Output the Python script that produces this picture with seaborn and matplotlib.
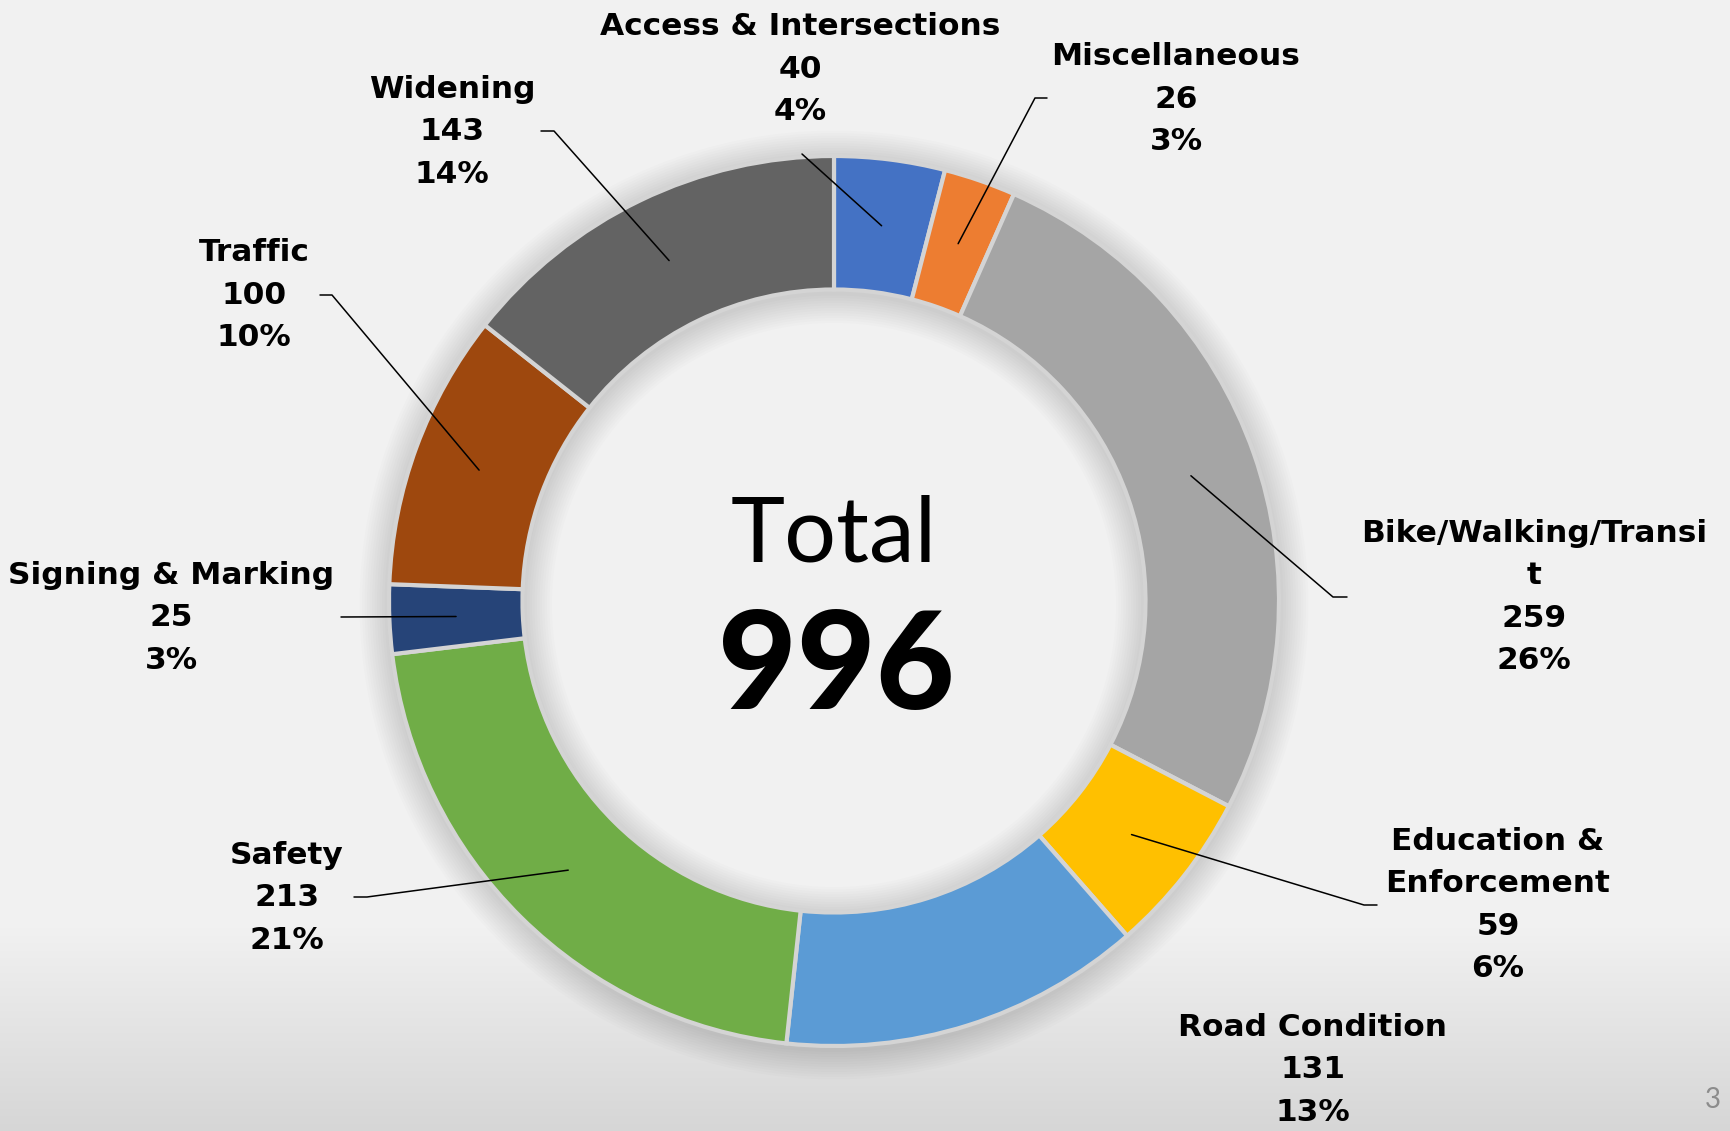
import numpy as np
import matplotlib
matplotlib.use("Agg")
import matplotlib.pyplot as plt
import seaborn as sns

categories = ["Access & Intersections", "Miscellaneous", "Bike/Walking/Transi\nt",
              "Education &\nEnforcement", "Road Condition", "Safety",
              "Signing & Marking", "Traffic", "Widening"]
values = [40, 26, 259, 59, 131, 213, 25, 100, 143]
colors = ["#4472C4", "#ED7D31", "#A5A5A5", "#FFC000", "#5B9BD5", "#70AD47",
          "#264478", "#9E480E", "#636363"]
total_label = "Total"

# layout (pixel space, y downwards from top of the image)
W, H = 1730, 1131
CX, CY, R = 834, 601, 445
label_pos = [(800, 69), (1176, 99), (1534, 597), (1498, 905), (1313, 1070),
             (287, 898), (171, 618), (254, 295), (452, 132)]
elbows = [[(802, 154)], [(1047, 98), (1035, 98)], [(1347, 597), (1333, 597)],
          [(1377, 905), (1364, 905)], [], [(354, 897), (367, 897)],
          [(341, 617)], [(320, 295), (332, 295)], [(541, 131), (554, 131)]]

sns.set_theme(style="white")
plt.rcParams['font.family'] = ['Lato', 'DejaVu Sans']

fig = plt.figure(figsize=(W / 100, H / 100), dpi=100)
fig.patch.set_facecolor("#f2f2f2")

# background gradient
bg = fig.add_axes([0, 0, 1, 1], zorder=0)
yy = np.arange(H)
start = 920
t = np.clip((yy - start) / (H - start), 0, 1)
shade = 0.949 - 0.11 * t
img = np.repeat(np.dstack([shade, shade, shade]).reshape(H, 1, 3), 2, axis=1)
bg.imshow(img, extent=[0, 1, 0, 1], aspect="auto", origin="upper")
bg.axis("off")

ax = fig.add_axes([0, 0, 1, 1], zorder=1)
ax.set_xlim(0, W)
ax.set_ylim(0, H)
ax.set_aspect("equal")
ax.axis("off")
ax.patch.set_alpha(0)

def Y(y):
    return H - y

# soft shadow
for k in range(12):
    ax.pie([1], radius=R + 2 + k * 2.5, center=(CX, Y(CY) - 4), colors=["black"],
           wedgeprops=dict(width=R * 0.30 + 4 + k * 5, alpha=0.011, linewidth=0))

wedges, _ = ax.pie(values, colors=colors, startangle=90, counterclock=False,
                   radius=R, center=(CX, Y(CY)),
                   wedgeprops=dict(width=R * 0.30, edgecolor="#d4d4d4", linewidth=3))
ax.set_xlim(0, W)
ax.set_ylim(0, H)

pct = [v / sum(values) * 100 for v in values]
for w, cat, v, p, (lx, ly), el in zip(wedges, categories, values, pct, label_pos, elbows):
    txt = f"{cat}\n{v}\n{p:.0f}%"
    ax.text(lx, Y(ly), txt, ha="center", va="center", fontsize=22.5, fontweight="bold",
            color="black", linespacing=1.58, family=["DejaVu Sans"])
    if el:
        ang = np.deg2rad((w.theta1 + w.theta2) / 2)
        ax_ = CX + 0.85 * R * np.cos(ang)
        ay_ = Y(CY) + 0.85 * R * np.sin(ang)
        xs = [e[0] for e in el] + [ax_]
        ys = [Y(e[1]) for e in el] + [ay_]
        ax.plot(xs, ys, color="black", linewidth=1.1, zorder=5)

ax.text(CX, Y(536), total_label, ha="center", va="center", fontsize=66, color="black")
ax.text(CX + 2, Y(670), f"{sum(values)}", ha="center", va="center", fontsize=98,
        fontweight="black", color="black")
ax.text(1713, Y(1100), "3", ha="center", va="center", fontsize=20, color="#8c8c8c")

fig.savefig("out.png", dpi=100, facecolor=fig.get_facecolor())
